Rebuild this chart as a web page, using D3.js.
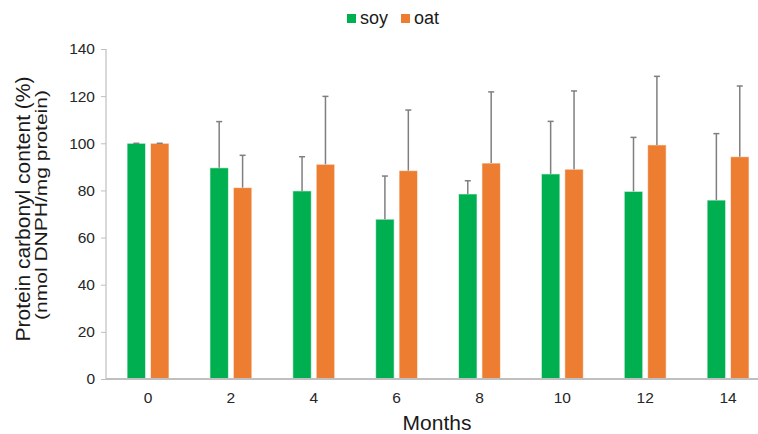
<!DOCTYPE html>
<html>
<head>
<meta charset="utf-8">
<script src="https://cdn.jsdelivr.net/npm/d3@7"></script>
<style>
  body { margin: 0; background: #fff; }
  svg { display: block; font-family: "Liberation Sans", Arial, sans-serif; }
</style>
</head>
<body>
<svg id="chart" width="758" height="434"></svg>
<script>
// values
var months = ['0', '2', '4', '6', '8', '10', '12', '14'];
var series = ['soy', 'oat'];
var soyMean = [100, 89.6, 79.8, 67.8, 78.5, 87.0, 79.6, 75.9];
var soyErr  = [0, 19.6, 14.5, 18.3, 5.6, 22.3, 22.9, 28.2];
var oatMean = [100, 81.2, 91.1, 88.4, 91.6, 89.0, 99.3, 94.3];
var oatErr  = [0, 13.7, 28.8, 25.7, 30.2, 33.2, 29.1, 30.0];
var yTicks = [0, 20, 40, 60, 80, 100, 120, 140];

var colors = { soy: '#00b050', oat: '#ed7d31' };

var svg = d3.select('#chart');
var margin = { left: 106, top: 49, bottom: 379 };

var rows = months.map(function(m, i) {
  return {
    month: m,
    values: [
      { key: 'soy', mean: soyMean[i], err: soyErr[i] },
      { key: 'oat', mean: oatMean[i], err: oatErr[i] }
    ]
  };
});

var x = d3.scaleBand().domain(months).range([106.6, 769.5]).padding(0);
var xSub = d3.scaleBand().domain(series)
  .range([x.bandwidth() / 2 - 20.95, x.bandwidth() / 2 + 20.95])
  .paddingInner(0.21).paddingOuter(0);
var y = d3.scaleLinear().domain([0, 140]).range([margin.bottom, margin.top]);

// y axis
var yAxis = svg.append('g')
  .attr('transform', 'translate(' + margin.left + ',0)')
  .call(d3.axisLeft(y).tickValues(yTicks).tickSize(5).tickPadding(6));
yAxis.select('.domain').attr('stroke', '#bfbfbf').attr('stroke-width', 1.2)
  .attr('d', 'M0,' + margin.top + 'V' + margin.bottom);
yAxis.selectAll('.tick line').attr('stroke', '#bfbfbf');
yAxis.selectAll('.tick text').attr('fill', '#262626')
  .style('font-size', '15.5px');

// bars
var groups = svg.append('g').selectAll('g')
  .data(rows).enter().append('g')
  .attr('transform', function(d) { return 'translate(' + x(d.month) + ',0)'; });

groups.selectAll('rect')
  .data(function(d) { return d.values; })
  .enter().append('rect')
  .attr('x', function(d) { return xSub(d.key); })
  .attr('y', function(d) { return y(d.mean); })
  .attr('width', xSub.bandwidth())
  .attr('height', function(d) { return y(0) - y(d.mean); })
  .attr('fill', function(d) { return colors[d.key]; })
  .attr('stroke', '#ffffff')
  .attr('stroke-opacity', 0.6)
  .attr('stroke-width', 1);

// error bars (upper only)
var eb = groups.selectAll('g.err')
  .data(function(d) { return d.values; })
  .enter().append('g').attr('class', 'err')
  .attr('stroke', '#7f7f7f')
  .attr('stroke-width', 1.5);
eb.append('line')
  .attr('x1', function(d) { return xSub(d.key) + xSub.bandwidth() / 2; })
  .attr('x2', function(d) { return xSub(d.key) + xSub.bandwidth() / 2; })
  .attr('y1', function(d) { return y(d.mean); })
  .attr('y2', function(d) { return y(d.mean + d.err); });
eb.append('line')
  .attr('x1', function(d) { return xSub(d.key) + xSub.bandwidth() / 2 - 3; })
  .attr('x2', function(d) { return xSub(d.key) + xSub.bandwidth() / 2 + 3; })
  .attr('y1', function(d) { return y(d.mean + d.err); })
  .attr('y2', function(d) { return y(d.mean + d.err); });

// x axis
var xAxis = svg.append('g')
  .attr('transform', 'translate(0,' + margin.bottom + ')')
  .call(d3.axisBottom(x).tickSize(0).tickPadding(13));
xAxis.select('.domain').attr('stroke', '#bfbfbf').attr('stroke-width', 2)
  .attr('d', 'M' + margin.left + ',0H769');
xAxis.selectAll('.tick text').attr('fill', '#262626')
  .style('font-size', '15.5px');

// axis titles
svg.append('text')
  .attr('x', 437).attr('y', 430)
  .attr('text-anchor', 'middle')
  .attr('fill', '#1a1a1a')
  .style('font-size', '21px')
  .text('Months');

// the y titles look stretched along their length in the reference,
// so scale the glyphs to the measured length
function stretchedTitle(txt, bx, cy, size, len) {
  var t = svg.append('text')
    .attr('text-anchor', 'middle')
    .attr('fill', '#1a1a1a')
    .style('font-size', size + 'px')
    .text(txt);
  var k = len / t.node().getComputedTextLength();
  t.attr('transform', 'translate(' + bx + ',' + cy + ') rotate(-90) scale(' + k + ',1)');
}
stretchedTitle('Protein carbonyl content (%)', 29.5, 209, 20.5, 265);
stretchedTitle('(nmol DNPH/mg protein)', 47, 205, 16.5, 230);

// legend
var legendX = [347, 401];
var legend = svg.append('g').selectAll('g')
  .data(series).enter().append('g')
  .attr('transform', function(d, i) { return 'translate(' + legendX[i] + ',14)'; });
legend.append('rect')
  .attr('width', 9).attr('height', 9)
  .attr('fill', function(d) { return colors[d]; });
legend.append('text')
  .attr('x', 13).attr('y', 10)
  .attr('fill', '#1a1a1a')
  .style('font-size', '18px')
  .text(function(d) { return d; });
</script>
</body>
</html>
